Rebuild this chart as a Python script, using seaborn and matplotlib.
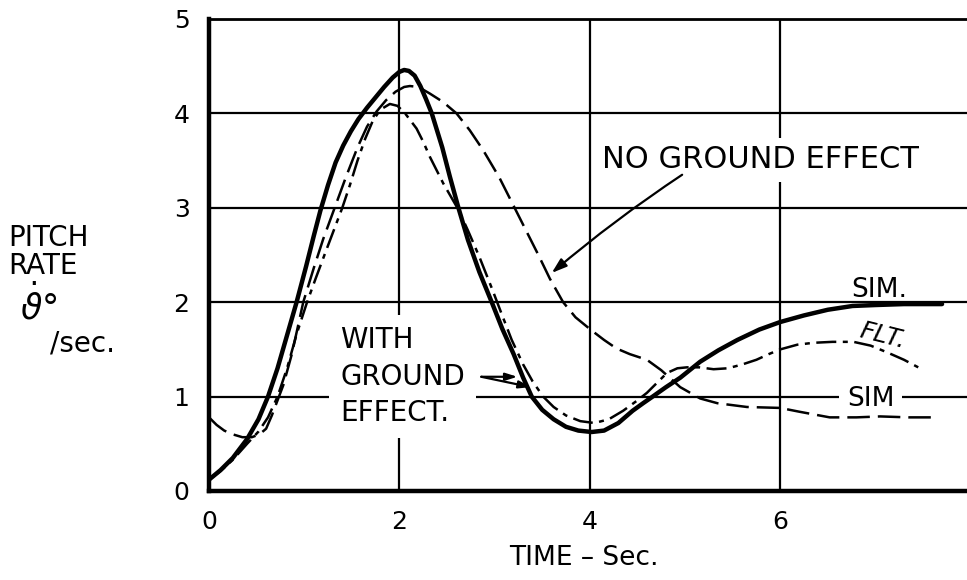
import matplotlib
matplotlib.use("Agg")
import matplotlib.pyplot as plt
import seaborn as sns

# Pitch rate response, simulation with ground effect (SIM.)
sim_ge_t = [0.0, 0.12, 0.25, 0.4, 0.52, 0.62, 0.72, 0.82, 0.92, 1.02, 1.10, 1.17,
            1.25, 1.33, 1.41, 1.49, 1.57, 1.66, 1.75, 1.84, 1.93, 2.00, 2.05, 2.10,
            2.16, 2.22, 2.28, 2.34, 2.45, 2.53, 2.62, 2.72, 2.84, 2.97, 3.08, 3.20,
            3.30, 3.39, 3.50, 3.62, 3.75, 3.88, 4.02, 4.15, 4.30, 4.45, 4.56, 4.66,
            4.80, 4.95, 5.16, 5.35, 5.55, 5.78, 6.00, 6.25, 6.50, 6.76, 7.00, 7.30,
            7.70]
sim_ge_q = [0.12, 0.22, 0.35, 0.55, 0.76, 1.00, 1.30, 1.65, 2.00, 2.38, 2.70, 2.97,
            3.24, 3.48, 3.66, 3.81, 3.94, 4.06, 4.17, 4.28, 4.38, 4.44, 4.46, 4.45,
            4.40, 4.29, 4.15, 4.00, 3.64, 3.33, 3.00, 2.66, 2.32, 2.00, 1.72, 1.45,
            1.20, 1.00, 0.86, 0.76, 0.68, 0.64, 0.625, 0.64, 0.72, 0.85, 0.93, 1.00,
            1.10, 1.20, 1.37, 1.49, 1.60, 1.71, 1.79, 1.86, 1.92, 1.96, 1.97, 1.98,
            1.98]

# Flight test with ground effect (FLT.)
flt_t = [0.0, 0.12, 0.25, 0.40, 0.52, 0.62, 0.72, 0.82, 0.92, 1.03, 1.12, 1.22,
         1.31, 1.40, 1.48, 1.56, 1.64, 1.72, 1.80, 1.90, 1.98, 2.06, 2.12, 2.18,
         2.25, 2.32, 2.40, 2.46, 2.54, 2.62, 2.72, 2.84, 2.97, 3.08, 3.18, 3.30,
         3.40, 3.51, 3.62, 3.75, 3.90, 4.05, 4.20, 4.35, 4.50, 4.60, 4.72, 4.81,
         4.92, 5.02, 5.15, 5.30, 5.45, 5.60, 5.75, 5.88, 6.00, 6.18, 6.35, 6.55,
         6.77, 6.95, 7.12, 7.30, 7.45]
flt_q = [0.12, 0.21, 0.33, 0.50, 0.63, 0.78, 1.00, 1.30, 1.66, 2.00, 2.25, 2.52,
         2.76, 3.00, 3.24, 3.50, 3.73, 3.92, 4.04, 4.10, 4.08, 4.00, 3.92, 3.84,
         3.70, 3.54, 3.38, 3.26, 3.12, 2.98, 2.76, 2.48, 2.15, 1.86, 1.60, 1.34,
         1.16, 1.00, 0.89, 0.80, 0.74, 0.72, 0.76, 0.85, 0.96, 1.04, 1.16, 1.25,
         1.30, 1.31, 1.31, 1.29, 1.30, 1.34, 1.39, 1.45, 1.50, 1.55, 1.57, 1.58,
         1.58, 1.54, 1.47, 1.39, 1.31]

# Simulation without ground effect (SIM)
sim_nge_t = [0.0, 0.08, 0.16, 0.25, 0.35, 0.45, 0.53, 0.60, 0.66, 0.72, 0.78, 0.87,
             0.99, 1.10, 1.20, 1.32, 1.44, 1.56, 1.66, 1.76, 1.86, 1.96, 2.05, 2.11,
             2.20, 2.32, 2.46, 2.60, 2.74, 2.88, 3.05, 3.21, 3.35, 3.46, 3.58, 3.72,
             3.85, 4.02, 4.15, 4.28, 4.42, 4.60, 4.75, 4.95, 5.16, 5.34, 5.65, 6.00,
             6.20, 6.52, 6.80, 7.05, 7.35, 7.63]
sim_nge_q = [0.78, 0.70, 0.64, 0.60, 0.57, 0.57, 0.60, 0.66, 0.80, 0.96, 1.12, 1.45,
             2.00, 2.36, 2.67, 3.00, 3.33, 3.64, 3.86, 4.02, 4.14, 4.23, 4.28, 4.29,
             4.28, 4.21, 4.12, 4.00, 3.82, 3.61, 3.32, 3.00, 2.72, 2.50, 2.25, 2.00,
             1.84, 1.70, 1.60, 1.51, 1.45, 1.39, 1.28, 1.10, 0.98, 0.93, 0.89, 0.88,
             0.84, 0.78, 0.78, 0.79, 0.78, 0.78]

x_ticks = [0, 2, 4, 6]
y_ticks = [0, 1, 2, 3, 4, 5]

sns.set_style("white")
ink = "black"
plt.rcParams.update({
    "font.family": ["DejaVu Sans"],
    "text.color": ink,
    "axes.labelcolor": ink,
    "xtick.color": ink,
    "ytick.color": ink,
    "mathtext.fontset": "dejavusans",
})

W, H = 967, 580
fig = plt.figure(figsize=(W / 100, H / 100), dpi=100)
ax = fig.add_axes([209 / W, (H - 491) / H, 1 - 209 / W, (491 - 19) / H])

sns.lineplot(x=sim_ge_t, y=sim_ge_q, ax=ax, color=ink, linewidth=3.2,
             estimator=None, sort=False, zorder=4)
line_flt = sns.lineplot(x=flt_t, y=flt_q, ax=ax, color=ink, linewidth=1.8,
                        estimator=None, sort=False, zorder=4).lines[-1]
line_flt.set_linestyle((0, (8, 2.6, 2, 2.6)))
line_nge = sns.lineplot(x=sim_nge_t, y=sim_nge_q, ax=ax, color=ink, linewidth=1.8,
                        estimator=None, sort=False, zorder=4).lines[-1]
line_nge.set_linestyle((0, (9, 3.2)))

ax.set_xlim(0, (W - 209) / 95.2)
ax.set_ylim(0, 5)
ax.set_xticks(x_ticks)
ax.set_yticks(y_ticks)
ax.set_xticklabels([str(v) for v in x_ticks], fontsize=18)
ax.set_yticklabels([str(v) for v in y_ticks], fontsize=18)
ax.tick_params(length=0, pad=14)

ax.grid(True, color=ink, linewidth=1.6, zorder=1)
ax.set_axisbelow(True)
ax.spines["right"].set_visible(False)
ax.spines["left"].set_linewidth(3.2)
ax.spines["bottom"].set_linewidth(3.2)
ax.spines["top"].set_linewidth(2.0)
for s in ("left", "bottom", "top"):
    ax.spines[s].set_color(ink)

ax.set_xlabel("TIME – Sec.", fontsize=19)
ax.xaxis.set_label_coords(0.495, -0.115)

# y axis caption: PITCH RATE, theta-dot in deg/sec
fig.text(8 / W, 1 - 238 / H, "PITCH", fontsize=20, va="center", ha="left")
fig.text(8 / W, 1 - 266 / H, "RATE", fontsize=20, va="center", ha="left")
fig.text(20 / W, 1 - 305 / H, r"$\dot{\vartheta}$°", fontsize=25, va="center",
         ha="left")
fig.text(50 / W, 1 - 343 / H, "/sec.", fontsize=20, va="center", ha="left")

white_box = dict(facecolor="white", edgecolor="none")

ax.text(1.38, 1.21, "WITH\nGROUND\nEFFECT.", fontsize=20, ha="left", va="center",
        linespacing=1.38, zorder=3,
        bbox=dict(white_box, boxstyle="square,pad=0.4"))
for tip in [(3.24, 1.21), (3.38, 1.10)]:
    ax.annotate("", xy=tip, xytext=(2.86, 1.21), zorder=5,
                arrowprops=dict(arrowstyle="-|>,head_length=0.7,head_width=0.22",
                                color=ink, lw=1.6, shrinkA=0, shrinkB=0))

ax.text(4.13, 3.51, "NO GROUND EFFECT", fontsize=22, ha="left", va="center",
        zorder=3, bbox=dict(white_box, boxstyle="square,pad=0.25"))
ax.annotate("", xy=(3.60, 2.31), xytext=(4.97, 3.35), zorder=5,
            arrowprops=dict(arrowstyle="-|>,head_length=0.9,head_width=0.3",
                            color=ink, lw=1.6, shrinkA=0, shrinkB=0,
                            connectionstyle="arc3,rad=0.03"))

ax.text(7.04, 2.13, "SIM.", fontsize=19, ha="center", va="center", zorder=3)
ax.text(7.08, 1.64, "FLT.", fontsize=18, ha="center", va="center", rotation=-14,
        style="italic", zorder=3)
ax.text(6.95, 0.97, "SIM", fontsize=19, ha="center", va="center", zorder=3,
        bbox=dict(white_box, boxstyle="square,pad=0.3"))

fig.savefig("out.png", dpi=100)
